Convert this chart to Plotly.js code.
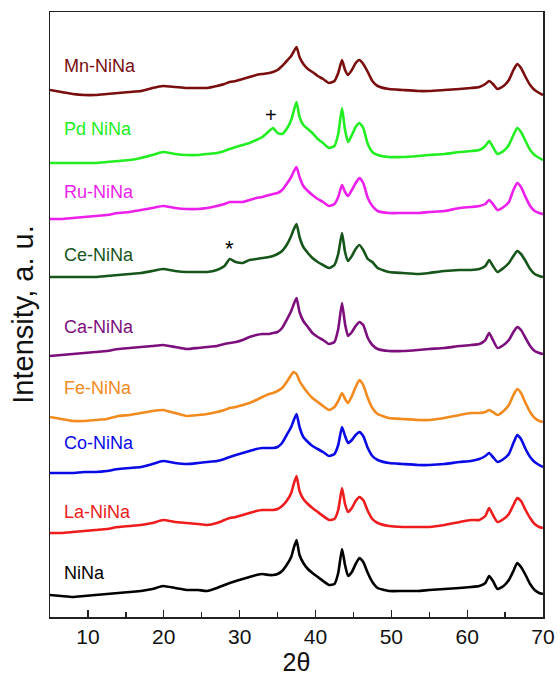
<!DOCTYPE html>
<html>
<head>
<meta charset="utf-8">
<script src="https://cdn.plot.ly/plotly-3.0.1.min.js"></script>
<style>html,body{margin:0;padding:0;background:#fff;}#chart{width:560px;height:677px;}</style>
</head>
<body>
<div id="chart"></div>
<script>
// 2θ sampling positions (degrees)
const twoTheta = [5, 6.5, 8, 9.5, 11, 12.5, 14, 15.5, 17, 18.5, 19.9, 21.5, 23, 24.5, 25.7, 27, 28, 28.7, 29.5, 30.4, 31.3, 32.2, 33, 33.9, 34.4, 35, 35.6, 36.2, 36.8, 37.1, 37.5, 37.9, 38.4, 39, 39.6, 40.3, 41, 41.8, 42.5, 43, 43.5, 43.9, 44.3, 44.8, 45.3, 45.8, 46.3, 46.9, 47.5, 48.2, 49.7, 51.5, 53.5, 55, 57, 59, 60.5, 61.6, 62.4, 62.9, 63.4, 64, 64.8, 65.5, 66.1, 66.6, 67.1, 67.7, 68.3, 68.9, 69.5, 70];

// Stacked intensities (a.u., offset patterns as drawn)
const NiNa = [22,21,20,21,22,23,24,25,26,28, 31,29,27,27,26,29,32,34,36,38, 40,42,43,42,42,43,46,52,60,68, 77,62,54,48,44,40,36,32,33,44, 68,52,41,45,53,59,55,44,35,29, 26,26,26,27,28,29,30,31,34,41, 36,28,31,37,46,54,50,42,33,27, 24,23];
const LaNiNa = [84,84,85,86,87,88,90,91,92,94, 97,95,94,93,92,94,97,99,100,102, 104,106,107,107,107,108,111,116,124,132, 141,126,118,113,109,105,101,97,98,107, 129,113,105,109,116,120,117,106,98,94, 91,90,90,90,92,95,97,97,101,109, 102,95,98,103,112,119,116,107,99,93, 90,89];
const CoNiNa = [144,144,144,145,145,146,148,149,150,153, 156,154,153,154,155,156,158,160,162,164, 166,168,169,169,169,170,174,182,190,196, 203,190,180,175,171,168,165,161,163,172, 190,181,174,177,182,185,181,169,161,157, 154,153,152,152,153,155,156,158,161,164, 160,155,158,163,174,182,178,168,160,155, 152,150];
const FeNiNa = [200,198,196,196,197,198,201,202,204,206, 207,204,201,202,203,205,207,209,210,212, 214,217,220,223,224,226,229,235,242,245, 243,236,230,224,219,215,211,207,210,216, 224,218,214,221,230,237,232,219,209,203, 199,198,197,197,199,202,204,204,205,207, 205,202,206,212,222,228,224,214,205,199, 196,195];
const CaNiNa = [261,262,263,264,265,266,268,269,270,271, 272,270,268,269,270,271,273,274,275,277, 280,282,283,283,284,285,289,297,306,312, 319,305,296,290,284,280,277,273,275,288, 314,293,281,285,291,295,292,279,272,268, 266,266,267,268,269,271,272,273,277,284, 277,269,272,277,285,290,287,279,271,266, 264,263];
const CeNiNa = [340,340,340,340,340,341,342,343,344,346, 348,346,345,345,345,347,351,358,355,354, 357,358,359,360,361,363,366,372,381,387, 393,380,370,364,359,355,352,349,352,363, 384,365,356,361,368,372,367,358,355,349, 345,344,343,344,346,347,347,348,351,357, 351,345,349,354,361,366,363,356,348,343, 341,340];
const RuNiNa = [398,398,399,400,401,402,404,405,407,409, 411,409,408,408,409,411,413,415,415,415, 417,419,420,422,423,424,427,433,440,445, 450,440,431,426,422,418,415,411,413,420, 432,425,421,427,434,439,434,419,411,406, 404,404,404,405,406,409,410,411,413,417, 413,407,410,415,427,434,430,420,411,406, 404,403];
const PdNiNa = [454,454,454,454,454,455,456,457,459,462, 465,463,462,462,463,464,466,468,470,472, 474,477,480,486,489,484,483,488,497,505, 515,500,492,488,484,478,474,469,471,483, 509,487,475,482,490,494,489,473,465,462, 460,460,461,462,463,465,466,467,471,476, 470,463,466,472,482,489,485,476,467,462, 459,457];
const MnNiNa = [527,525,523,522,522,523,524,525,526,529, 531,530,529,529,529,531,533,535,536,538, 540,542,543,544,545,547,551,556,561,565, 570,560,553,548,545,541,538,534,536,544, 557,547,542,547,554,557,553,545,536,531, 528,527,526,526,527,528,529,530,533,536, 533,528,531,537,547,553,549,540,532,527, 524,522];

const seriesNames = ["NiNa", "La-NiNa", "Co-NiNa", "Fe-NiNa", "Ca-NiNa", "Ce-NiNa", "Ru-NiNa", "Pd NiNa", "Mn-NiNa"];
const seriesData = [NiNa, LaNiNa, CoNiNa, FeNiNa, CaNiNa, CeNiNa, RuNiNa, PdNiNa, MnNiNa];
const colors = ["#000000", "#ee1c1c", "#0a0ae6", "#f28a1e", "#7d0f7d", "#17561a", "#ec1fec", "#22ee22", "#7a0d0d"];
const labelY = [44, 105, 174, 229, 290, 362, 425, 488, 551];

const tickVals = [10, 20, 30, 40, 50, 60, 70];
const tickText = ["10", "20", "30", "40", "50", "60", "70"];

const traces = seriesData.map((ys, i) => ({
  x: twoTheta, y: ys, type: "scatter", mode: "lines",
  name: seriesNames[i],
  line: {color: colors[i], width: 2.6, shape: "spline", smoothing: 0.5},
  hoverinfo: "skip"
}));

const annotations = seriesNames.map((n, i) => ({
  x: 6.6, y: labelY[i], xref: "x", yref: "y", text: n, showarrow: false,
  xanchor: "left", yanchor: "middle",
  font: {family: "Liberation Sans, Arial, sans-serif", size: 18, color: colors[i]}
}));
annotations.push({x: 34.1, y: 502, xref: "x", yref: "y", text: "+", showarrow: false,
  xanchor: "center", yanchor: "middle", font: {family: "Liberation Sans, Arial, sans-serif", size: 20, color: "#000"}});
annotations.push({x: 28.6, y: 369, xref: "x", yref: "y", text: "*", showarrow: false,
  xanchor: "center", yanchor: "middle", font: {family: "Liberation Sans, Arial, sans-serif", size: 22, color: "#000"}});

const layout = {
  width: 560, height: 677,
  margin: {l: 50, r: 17, t: 12, b: 60},
  paper_bgcolor: "#fff", plot_bgcolor: "#fff",
  showlegend: false,
  font: {family: "Liberation Sans, Arial, sans-serif", color: "#000"},
  xaxis: {
    range: [5, 70], tickvals: tickVals, ticktext: tickText,
    ticks: "inside", ticklen: 7, tickwidth: 1.3, tickcolor: "#222",
    minor: {dtick: 5, tick0: 5, ticks: "inside", ticklen: 5, tickwidth: 1.3, tickcolor: "#222"},
    showline: true, linecolor: "#222", linewidth: 1.5, mirror: true,
    showgrid: false, zeroline: false,
    tickfont: {size: 21, color: "#111"},
    title: {text: "2θ", font: {size: 25, color: "#111"}, standoff: 2}
  },
  yaxis: {
    range: [0, 605], showticklabels: false, ticks: "",
    showline: true, linecolor: "#222", linewidth: 1.5, mirror: true,
    showgrid: false, zeroline: false,
    title: {text: "Intensity, a. u.", font: {size: 29, color: "#111"}, standoff: 6}
  },
  annotations: annotations
};

Plotly.newPlot("chart", traces, layout, {displayModeBar: false, staticPlot: true});
</script>
</body>
</html>
